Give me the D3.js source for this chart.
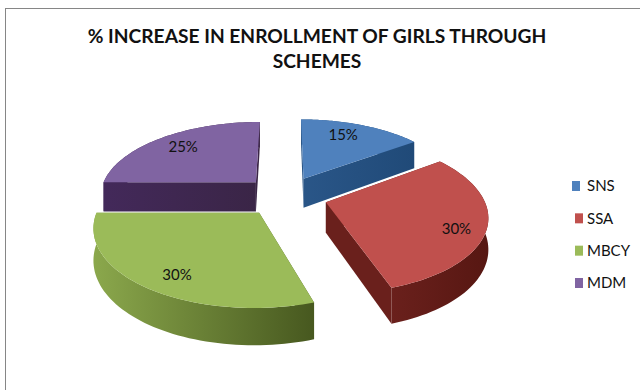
<!DOCTYPE html>
<html>
<head>
<meta charset="utf-8">
<script src="https://cdn.jsdelivr.net/npm/d3@7"></script>
<style>
  html, body { margin: 0; padding: 0; background: #fff; }
  svg { display: block; }
  text { font-family: Lato, "Noto Sans", sans-serif; fill: #111; }
</style>
</head>
<body>
<svg id="chart" width="640" height="390"></svg>
<script>
// Enrollment increase by scheme, drawn as an exploded 3D pie.
const titleLines = ["% INCREASE IN ENROLLMENT OF GIRLS THROUGH", "SCHEMES"];
const schemes = ["SNS", "SSA", "MBCY", "MDM"];
const increases = [15, 30, 30, 25];

const topColors = ["#4f81bd", "#c0504d", "#9bbb59", "#8064a2"];
const wallLight = ["#2a5688", "#6a201c", "#8ba84c", "#43295a"];
const wallDark = ["#204a78", "#571712", "#47581f", "#3a2546"];
const swatchX = [572, 575, 575, 575];
const labelTurnDeg = [-4, 5, -4, 1];            // nudge of each label around the centre
const labelRadii = [0.78, 0.83, 0.81, 0.77];    // distance of each label from its apex

const W = 640, H = 390;
const cx = 285, cy = 196;      // pie centre on screen
const rx = 157, ry = 74;       // radii of the tilted disc
const perspective = 0.16;      // how much nearer parts grow
const depth = 30;              // thickness of the disc
const explode = 0.27;          // slice offset, in radii

const svg = d3.select("#chart");
const defs = svg.append("defs");

// Frame around the chart area, running off the right and bottom edges
svg.append("rect")
  .attr("x", 5.5).attr("y", 8.5)
  .attr("width", W + 20).attr("height", H + 20)
  .attr("fill", "#fff").attr("stroke", "#868686").attr("stroke-width", 1);

const titleText = svg.append("text")
  .attr("text-anchor", "middle")
  .attr("font-size", 19.2)
  .attr("font-weight", 700);
titleLines.forEach((line, i) => {
  titleText.append("tspan")
    .attr("x", 317).attr("y", 43 + i * 25)
    .text(line);
});

const pie = d3.pie().sort(null).startAngle(0).endAngle(2 * Math.PI);
const arcs = pie(increases);

// Maps a point of the disc plane (u right, v toward the viewer) to the screen.
function project(u, v, lift) {
  const s = 1 / (1 - perspective * v);
  return [cx + rx * u * s, cy + ry * v * s + lift * depth * s];
}

function sliceGeometry(d) {
  const mid = (d.startAngle + d.endAngle) / 2;
  const ou = explode * Math.sin(mid), ov = -explode * Math.cos(mid);
  const angles = d3.range(0, 61).map(i => d.startAngle + (d.endAngle - d.startAngle) * i / 60);
  const rim = angles.map(a => [ou + Math.sin(a), ov - Math.cos(a)]);
  return { mid, ou, ov, rim };
}

const line = d3.line();
const closed = pts => line(pts) + "Z";

// Back slices first so nearer ones cover them.
[3, 0, 1, 2].forEach(i => {
  const d = arcs[i];
  const g = sliceGeometry(d);
  const apex = [g.ou, g.ov];
  const group = svg.append("g").attr("class", "slice-" + schemes[i]);

  const rimTop = g.rim.map(p => project(p[0], p[1], 0));
  const rimBottom = g.rim.map(p => project(p[0], p[1], 1));
  const xs = d3.extent(rimTop, p => p[0]);

  const grad = defs.append("linearGradient")
    .attr("id", "wall" + i)
    .attr("gradientUnits", "userSpaceOnUse")
    .attr("x1", xs[0]).attr("x2", xs[1]).attr("y1", 0).attr("y2", 0);
  grad.append("stop").attr("offset", 0).attr("stop-color", wallLight[i]);
  grad.append("stop").attr("offset", 1).attr("stop-color", wallDark[i]);
  const wallFill = `url(#wall${i})`;

  // Outer curved wall
  group.append("path")
    .attr("d", closed(rimTop.concat(rimBottom.slice().reverse())))
    .attr("fill", wallFill);

  // The two radial walls
  [g.rim[0], g.rim[g.rim.length - 1]].forEach(edge => {
    group.append("path")
      .attr("d", closed([
        project(apex[0], apex[1], 0),
        project(edge[0], edge[1], 0),
        project(edge[0], edge[1], 1),
        project(apex[0], apex[1], 1)
      ]))
      .attr("fill", wallFill);
  });

  // Top face
  group.append("path")
    .attr("d", closed([project(apex[0], apex[1], 0)].concat(rimTop)))
    .attr("fill", topColors[i]);
});

// Percentage labels sit close to each slice's middle angle.
arcs.forEach((d, i) => {
  const g = sliceGeometry(d);
  const a = g.mid + labelTurnDeg[i] * Math.PI / 180;
  const p = project(
    g.ou + labelRadii[i] * Math.sin(a),
    g.ov - labelRadii[i] * Math.cos(a),
    0
  );
  svg.append("text")
    .attr("x", p[0]).attr("y", p[1])
    .attr("dy", "0.35em")
    .attr("text-anchor", "middle")
    .attr("font-size", 15)
    .text(d.data + "%");
});

// Legend
const legendY = d3.scalePoint().domain(schemes).range([186, 283]);
const legend = svg.append("g").attr("class", "legend");
schemes.forEach((name, i) => {
  legend.append("rect")
    .attr("x", swatchX[i]).attr("y", legendY(name) - 5)
    .attr("width", 8).attr("height", 10)
    .attr("fill", topColors[i]);
  legend.append("text")
    .attr("x", 587).attr("y", legendY(name))
    .attr("dy", "0.35em")
    .attr("font-size", 15)
    .text(name);
});
</script>
</body>
</html>
